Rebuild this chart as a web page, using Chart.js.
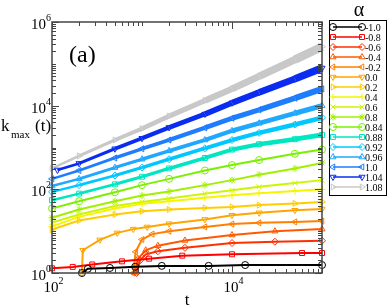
<!DOCTYPE html>
<html>
<head>
<meta charset="utf-8">
<script src="https://cdn.jsdelivr.net/npm/chart.js@4.4.1/dist/chart.umd.min.js"></script>
<style>
  html, body { margin: 0; padding: 0; background: #fff; }
</style>
</head>
<body>
<canvas id="chart" width="388" height="308"></canvas>
<script>
// t values (shared grid for the smooth curves)
const tGrid = [100, 200, 500, 1000, 2000, 5000, 10000, 20000, 50000, 100000];
const tBlue = [115, 200, 500, 1000, 2000, 5000, 10000, 20000, 50000, 100000];

// k_max(t) per alpha
const k108 = [316, 630, 1510, 2820, 5620, 13200, 25100, 50100, 126000, 257000];
const k104 = [290, 417, 933, 1660, 3020, 6310, 11700, 20900, 43600, 79400];
const k100 = [178, 282, 562, 933, 1510, 2950, 5010, 7940, 15100, 25100];
const k096 = [120, 178, 331, 525, 832, 1510, 2510, 3800, 6610, 10000];
const k092 = [87, 126, 214, 331, 525, 955, 1510, 2240, 3550, 5130];
const k088 = [55, 79, 132, 200, 316, 562, 891, 1200, 1580, 2000];
const k084 = [35, 52, 85, 126, 178, 282, 380, 501, 708, 891];
const k080 = [21, 33, 52, 71, 89, 126, 166, 224, 316, 427];
const k060 = [16, 25, 40, 50, 60, 79, 95, 115, 141, 166];
const k040 = [13, 22, 35, 45, 52, 63, 72, 81, 91, 100];
const k020 = [11, 18, 25, 30, 33, 36, 38, 42, 46, 50];

const t000 = [215, 220, 340, 530, 800, 1140, 2000, 5000, 10000, 20000, 50000, 100000];
const k000 = [1, 3.5, 6.2, 9.1, 11.2, 12.6, 15.1, 19.1, 24, 27.5, 31.6, 33.9];

const tm02 = [800, 850, 1000, 1300, 2000, 5000, 10000, 20000, 50000, 100000];
const km02 = [1, 3.2, 6.3, 8.5, 10, 12.6, 14.8, 15.8, 16.6, 17.4];

const tm04 = [830, 900, 1100, 1500, 3000, 10000, 30000, 100000];
const km04 = [1, 2.2, 3.5, 4.5, 6, 8.1, 10, 11.2];

const tm06 = [870, 950, 1100, 1500, 3000, 10000, 30000, 100000];
const km06 = [1, 2, 2.8, 3.3, 4, 5.2, 5.6, 5.9];

const tm08 = [100, 170, 280, 600, 1200, 2800, 10000, 60000, 100000];
const km08 = [1.3, 1.4, 1.6, 1.9, 2.2, 2.6, 2.8, 3.0, 3.0];

const tm10 = [215, 250, 440, 840, 1660, 5500, 14000, 100000];
const km10 = [1, 1.26, 1.32, 1.41, 1.48, 1.48, 1.55, 1.55];

const alphaLabels = ["-1.0", "-0.8", "-0.6", "-0.4", "-0.2", "0.0", "0.2", "0.4", "0.6",
                     "0.8", "0.84", "0.88", "0.92", "0.96", "1.0", "1.04", "1.08"];
const seriesT = [tm10, tm08, tm06, tm04, tm02, t000, tGrid, tGrid, tGrid,
                 tGrid, tGrid, tGrid, tGrid, tGrid, tGrid, tBlue, tGrid];
const seriesK = [km10, km08, km06, km04, km02, k000, k020, k040, k060,
                 k080, k084, k088, k092, k096, k100, k104, k108];
const colors = ["#000000", "#ff0000", "#ff3000", "#ff5a00", "#ff8000", "#ffa500", "#ffcc00",
                "#f5f500", "#ccf500", "#a0f000", "#78f000", "#00e6c0", "#00c8ff", "#1ea8ff",
                "#1e7cff", "#0a2cf0", "#c8c8c8"];
const styles = ["circle", "rect", "rectRot", "triangle", "triangle", "triangle", "triangle",
                "cross", "crossRot", "star", "circle", "rect", "rectRot", "triangle",
                "triangle", "triangle", "triangle"];
const rotations = [0, 0, 0, 0, 270, 180, 90, 0, 0, 0, 0, 0, 0, 0, 270, 180, 90];
// band thickness at the right end (dense markers) for the upper curves
const bandWidth = [2, 2, 2, 2, 2, 2, 2, 2, 2, 2, 2, 5, 5, 5.5, 6.5, 8, 9];

const SERIF = "'Liberation Serif', 'DejaVu Serif', serif";

const datasets = alphaLabels.map((lab, i) => ({
  label: lab,
  data: seriesT[i].map((t, j) => ({ x: t, y: seriesK[i][j] })),
  showLine: true,
  borderColor: colors[i],
  backgroundColor: 'transparent',
  borderWidth: 2,
  pointStyle: styles[i],
  rotation: rotations[i],
  pointRadius: 3.5,
  pointBorderWidth: 1,
  pointBackgroundColor: 'transparent',
  pointBorderColor: colors[i],
  clip: false,
  segment: {
    borderWidth: ctx => {
      if (bandWidth[i] <= 2) return 2;
      const f = (Math.log10(ctx.p0.parsed.x) - 2) / 3;
      return 2.5 + (bandWidth[i] - 2.5) * f;
    }
  }
}));

function logTicks(lo, hi) {
  const out = [];
  for (let d = lo; d < hi; d++)
    for (let m = 1; m < 10; m++) out.push({ v: m * Math.pow(10, d), dec: m === 1 ? d : null });
  out.push({ v: Math.pow(10, hi), dec: hi });
  return out;
}

function drawPow(ctx, x, y, exp, align) {
  ctx.font = "15px " + SERIF;
  const w1 = ctx.measureText("10").width;
  ctx.font = "10px " + SERIF;
  const w2 = ctx.measureText(String(exp)).width;
  const x0 = align === 'right' ? x - w1 - w2 : x - w1 / 2 - 1;
  ctx.textAlign = 'left';
  ctx.textBaseline = 'alphabetic';
  ctx.font = "15px " + SERIF;
  ctx.fillText("10", x0, y + 5);
  ctx.font = "10px " + SERIF;
  ctx.fillText(String(exp), x0 + w1, y - 3);
}

const decor = {
  id: 'decor',
  afterDraw(chart) {
    const ctx = chart.ctx;
    const a = chart.chartArea;
    const xs = chart.scales.x, ys = chart.scales.y;
    ctx.save();
    ctx.fillStyle = '#000';
    ctx.strokeStyle = '#444';
    ctx.lineWidth = 1.5;
    ctx.strokeRect(a.left, a.top, a.right - a.left, a.bottom - a.top);

    ctx.lineWidth = 1;
    logTicks(2, 5).forEach(tk => {
      const px = Math.round(xs.getPixelForValue(tk.v)) + 0.5;
      const len = tk.dec !== null && tk.dec % 2 === 0 ? 7 : 4;
      ctx.beginPath();
      ctx.moveTo(px, a.bottom); ctx.lineTo(px, a.bottom - len);
      ctx.moveTo(px, a.top); ctx.lineTo(px, a.top + len);
      ctx.stroke();
    });
    logTicks(0, 6).forEach(tk => {
      const py = Math.round(ys.getPixelForValue(tk.v)) + 0.5;
      const len = tk.dec !== null && tk.dec % 2 === 0 ? 7 : 4;
      ctx.beginPath();
      ctx.moveTo(a.left, py); ctx.lineTo(a.left + len, py);
      ctx.moveTo(a.right, py); ctx.lineTo(a.right - len, py);
      ctx.stroke();
    });

    [2, 4].forEach(e => drawPow(ctx, xs.getPixelForValue(Math.pow(10, e)), 287, e, 'center'));
    [0, 2, 4, 6].forEach(e => drawPow(ctx, 51, ys.getPixelForValue(Math.pow(10, e)) + 2, e, 'right'));

    // axis titles
    ctx.textAlign = 'left';
    ctx.font = "17px " + SERIF;
    ctx.fillText("k", 1, 131);
    ctx.font = "11px " + SERIF;
    ctx.fillText("max", 11, 138);
    ctx.font = "17px " + SERIF;
    ctx.fillText("(t)", 35, 131);
    ctx.textAlign = 'center';
    ctx.fillText("t", 187, 305);
    ctx.textAlign = 'left';
    ctx.font = "24px " + SERIF;
    ctx.fillText("(a)", 69, 62);

    // legend
    ctx.font = "20px " + SERIF;
    ctx.textAlign = 'center';
    ctx.fillText("\u03b1", 359, 16);
    ctx.strokeStyle = '#000';
    ctx.lineWidth = 1;
    ctx.strokeRect(329.5, 20.5, 57, 175);
    ctx.font = "10px " + SERIF;
    ctx.textAlign = 'left';
    ctx.textBaseline = 'middle';
    alphaLabels.forEach((lab, i) => {
      const y = 27 + i * 10;
      ctx.strokeStyle = colors[i];
      ctx.lineWidth = 1.5;
      ctx.beginPath();
      ctx.moveTo(333, y); ctx.lineTo(362, y);
      ctx.stroke();
      ctx.lineWidth = 1;
      ctx.fillStyle = 'rgba(0,0,0,0)';
      [333, 362].forEach(x => Chart.helpers.drawPoint(ctx,
        { pointStyle: styles[i], rotation: rotations[i], radius: 3.5, borderWidth: 1 }, x, y));
      ctx.fillStyle = '#000';
      ctx.fillText(lab, 365, y + 1);
    });
    ctx.restore();
  }
};

new Chart(document.getElementById("chart"), {
  type: 'scatter',
  data: { datasets: datasets },
  options: {
    responsive: false,
    animation: false,
    layout: { padding: { top: 22, right: 66, left: 0, bottom: 0 } },
    plugins: { legend: { display: false }, tooltip: { enabled: false } },
    scales: {
      x: {
        type: 'logarithmic', min: 100, max: 100000,
        grid: { display: false }, border: { display: false },
        ticks: { display: false },
        afterFit: s => { s.height = 35; }
      },
      y: {
        type: 'logarithmic', min: 1, max: 1000000,
        grid: { display: false }, border: { display: false },
        ticks: { display: false },
        afterFit: s => { s.width = 52; }
      }
    }
  },
  plugins: [decor]
});
</script>
</body>
</html>
